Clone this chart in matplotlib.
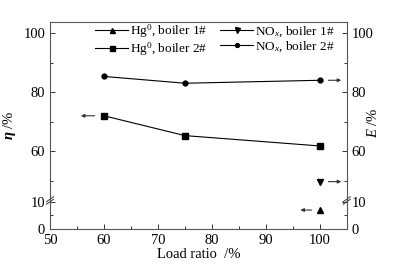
import numpy as np
import matplotlib
matplotlib.use("Agg")
import matplotlib.pyplot as plt
from matplotlib.ticker import FixedLocator, FixedFormatter

plt.rcParams['font.family'] = ['Liberation Serif', 'DejaVu Serif']
plt.rcParams['mathtext.fontset'] = 'custom'
plt.rcParams['mathtext.rm'] = 'Liberation Serif'
plt.rcParams['mathtext.it'] = 'Liberation Serif:italic'
plt.rcParams['mathtext.bf'] = 'Liberation Serif:bold:italic'

# ---- data ----
load_b2 = [60, 75, 100]
hg_b2 = [72.0, 65.3, 61.8]
nox_b2 = [85.3, 83.0, 84.0]
load_b1 = [100]
hg_b1 = [7.0]
nox_b1 = [48.5]

y_major = [0, 10, 60, 80, 100]
y_minor = [5, 50, 70, 90]
x_major = [50, 60, 70, 80, 90, 100]
x_minor = [55, 65, 75, 85, 95]

# broken-axis mapping (value -> display)
_v = [0, 10, 50, 110]
_d = [0, 27, 48, 48 + 60 * 2.95]
def fwd(v):
    return np.interp(v, _v, _d)
def inv(d):
    return np.interp(d, _d, _v)

fig = plt.figure(figsize=(3.93, 2.65), dpi=100)
ax = fig.add_axes([50/393, 1 - 229/265, (346.7 - 50)/393, (229 - 21.7)/265])
ax.set_yscale('function', functions=(fwd, inv))
ax.set_xlim(50, 105)
ax.set_ylim(0, 103.8)

lw = 0.8
ax.plot(load_b1, hg_b1, marker='^', color='black', lw=lw, ms=4.5, label='Hg$^0$, boiler 1#')
ax.plot(load_b2, hg_b2, marker='s', color='black', lw=lw, ms=4.5, label='Hg$^0$, boiler 2#')
ax.plot(load_b1, nox_b1, marker='v', color='black', lw=lw, ms=4.5, label='NO$_x$, boiler 1#')
ax.plot(load_b2, nox_b2, marker='o', color='black', lw=lw, ms=3.5, label='NO$_x$, boiler 2#')

arrow_kw = dict(arrowstyle='-|>', color='#333333', lw=0.8, mutation_scale=5)
ax.annotate('', xy=(55.2, hg_b2[0]), xytext=(58.8, hg_b2[0]), arrowprops=arrow_kw)
ax.annotate('', xy=(104.5, nox_b2[2]), xytext=(101.1, nox_b2[2]), arrowprops=arrow_kw)
ax.annotate('', xy=(104.5, nox_b1[0]), xytext=(101.1, nox_b1[0]), arrowprops=arrow_kw)
ax.annotate('', xy=(95.9, hg_b1[0]), xytext=(99.0, hg_b1[0]), arrowprops=arrow_kw)

ax.xaxis.set_major_locator(FixedLocator(x_major))
ax.xaxis.set_minor_locator(FixedLocator(x_minor))
ax.yaxis.set_major_locator(FixedLocator(y_major))
ax.yaxis.set_major_formatter(FixedFormatter([str(t) for t in y_major]))
ax.yaxis.set_minor_locator(FixedLocator(y_minor))
ax.yaxis.set_minor_formatter(FixedFormatter([''] * len(y_minor)))
ax.tick_params(which='both', direction='in', labelsize=10.5, top=False,
               right=True, labelright=True, colors='#333333', labelcolor='black')
ax.tick_params(which='major', length=3.5, width=0.7)
ax.tick_params(which='minor', length=2, width=0.7)
for s in ax.spines.values():
    s.set_linewidth(0.8)
    s.set_color('#555555')

# break marks
dy_frac = 28.5 / 207.3
for xa in (0, 1):
    for off in (-0.006, 0.006):
        ax.plot([xa - 0.012, xa + 0.012], [dy_frac + off - 0.012, dy_frac + off + 0.012],
                transform=ax.transAxes, color='#333333', lw=0.7, clip_on=False)

ax.set_xlabel('Load ratio  /%', fontsize=10.5, labelpad=1)
ax.set_ylabel(r'$\mathbf{\eta}$ /%', fontsize=10.5, labelpad=4)
fig.text(373/393, 1 - 123/265, r'$E$ /%', rotation=90, fontsize=10.5, va='center', ha='center')

ax.legend(loc='upper center', ncol=2, frameon=False, fontsize=9.5,
          handlelength=2.5, handletextpad=0.15, columnspacing=1.0,
          labelspacing=-0.02, borderaxespad=0.0, markerscale=0.8,
          bbox_to_anchor=(0.556, 1.02))

fig.savefig('out.png', dpi=100)
